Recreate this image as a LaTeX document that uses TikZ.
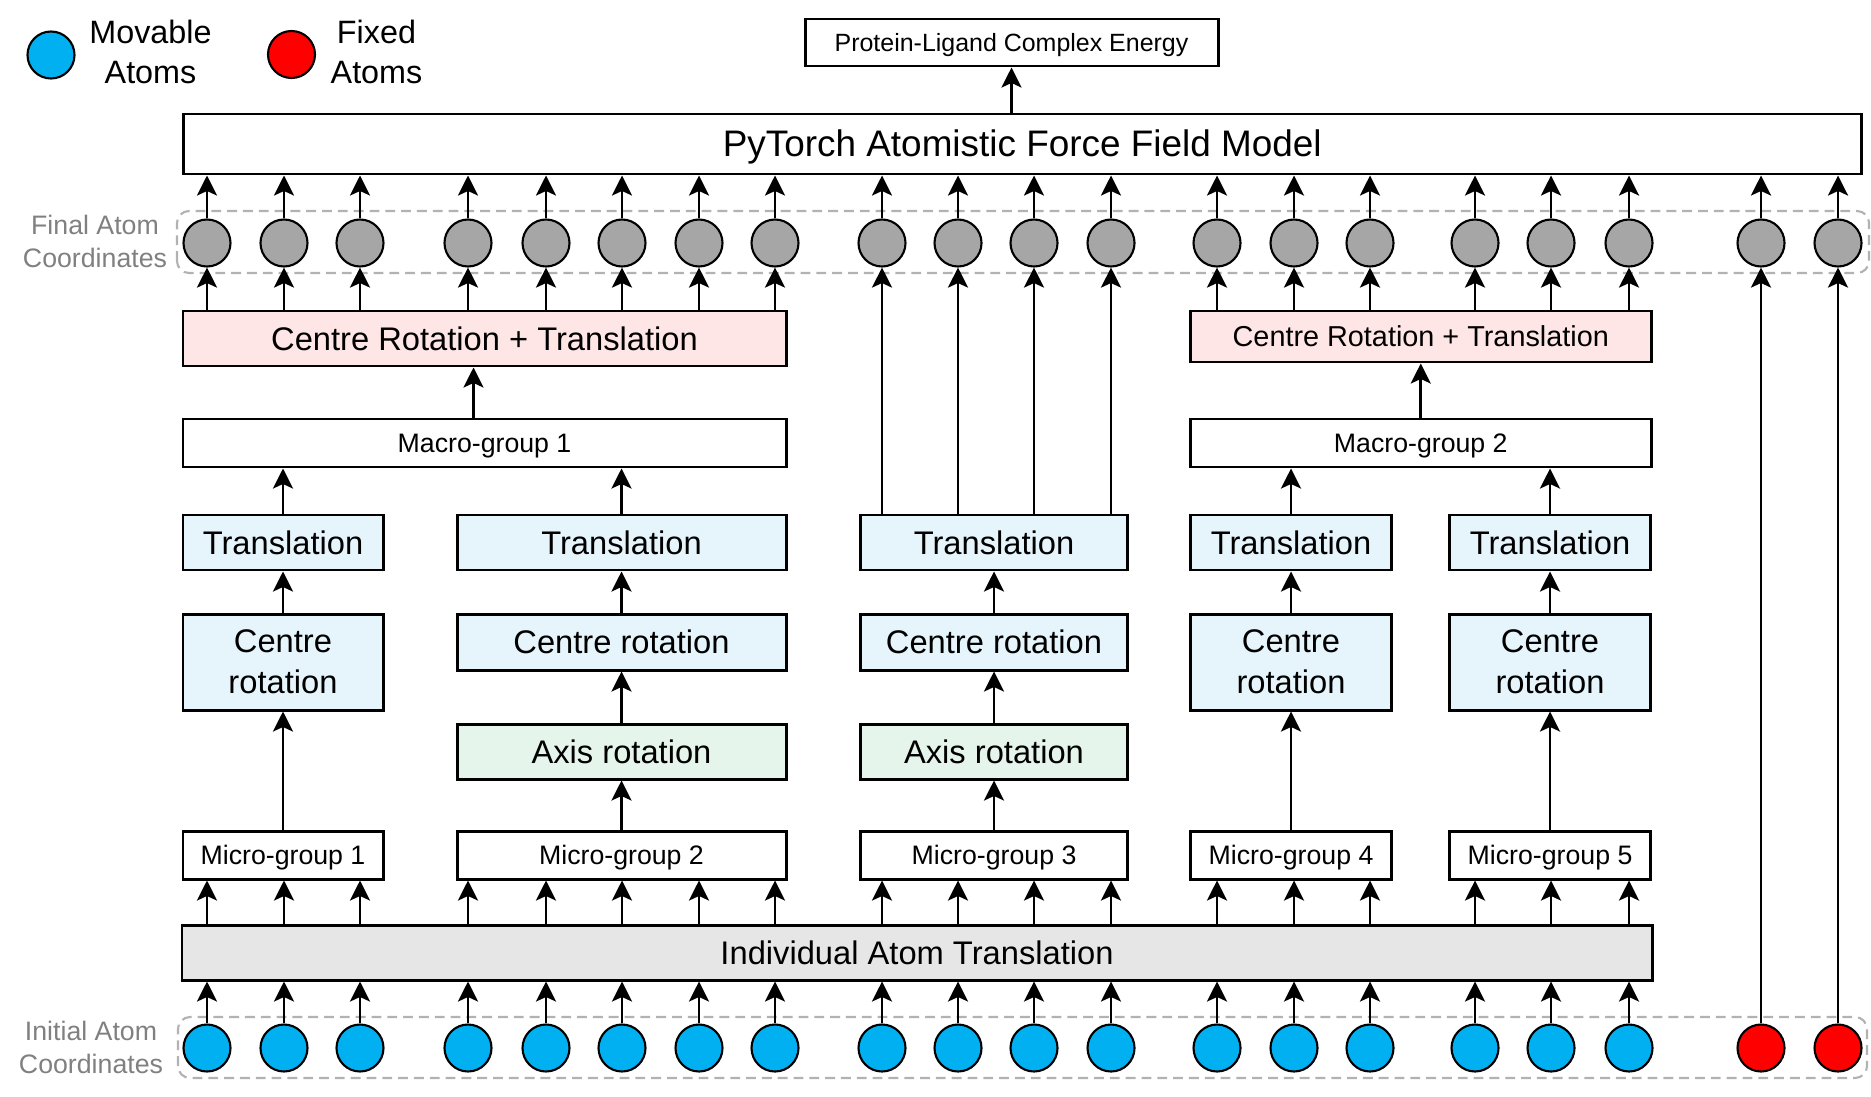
\documentclass[tikz,border=0pt]{standalone}
\usepackage{fontspec}
\setmainfont{Liberation Sans}
\usetikzlibrary{arrows.meta}

\definecolor{atomblue}{HTML}{00B0F0}
\definecolor{atomred}{HTML}{FF0000}
\definecolor{atomgray}{HTML}{A6A6A6}
\definecolor{pinkfill}{HTML}{FFE6E6}
\definecolor{bluefill}{HTML}{E6F5FC}
\definecolor{greenfill}{HTML}{E6F5EC}
\definecolor{greyfill}{HTML}{E6E6E6}

\tikzset{
    atom/.style={circle, draw, line width=0.6pt, minimum size=0.47cm, inner sep=0pt},
    stage/.style={draw, line width=0.85pt, inner sep=0pt, align=center, font=\fontsize{9.3}{11.8}\selectfont},
    group/.style={stage, minimum height=0.48cm, text height=5.3pt, text depth=0pt, font=\fontsize{7.6}{9}\selectfont},
    link/.style={-{Stealth[length=5.7pt, width=5.7pt, inset=1.3pt]}, line width=0.75pt},
    region/.style={draw=black!30, line width=0.6pt, dash pattern=on 2.8pt off 1.7pt, rounded corners=0.12cm},
    note/.style={text=black!50, align=center, font=\fontsize{7.6}{9.4}\selectfont},
    legend/.style={align=center, font=\fontsize{9.2}{11.4}\selectfont}
}

\begin{document}
\begin{tikzpicture}
    \useasboundingbox (0,0) rectangle (18.71,10.96);

    % Coordinate rows
    \draw [region] (1.77,8.23) rectangle (18.69,8.85);
    \draw [region] (1.78,0.18) rectangle (18.67,0.79);
    \node [note] (finallabel) at (0.95,8.545) {Final Atom\\Coordinates};
    \node [note] (initlabel) at (0.91,0.49) {Initial Atom\\Coordinates};

    % Legend
    \node [atom, fill=atomblue] (keymove) at (0.51,10.41) {};
    \node [legend] (keymovetext) at (1.505,10.44) {Movable\\Atoms};
    \node [atom, fill=atomred] (keyfix) at (2.915,10.415) {};
    \node [legend] (keyfixtext) at (3.765,10.44) {Fixed\\Atoms};

    % Model and energy
    \node [stage, minimum width=16.775cm, minimum height=0.6cm, text height=7.35pt, text depth=0pt, font=\fontsize{10.5}{12}\selectfont] (ff) at (10.2225,9.52) {PyTorch Atomistic Force Field Model};
    \node [stage, minimum width=4.13cm, minimum height=0.47cm, text height=5pt, text depth=0pt, font=\fontsize{7.1}{9}\selectfont] (energy) at (10.115,10.535) {Protein-Ligand Complex Energy};

    % Atoms (final and initial)
    \foreach \x [count=\i] in {2.07,2.84,3.60,4.68,5.46,6.22,6.99,7.75,8.82,9.58,10.34,11.11,12.17,12.94,13.70,14.75,15.51,16.29} {
        \node [atom, fill=atomgray] (f\i) at (\x,8.53) {};
        \node [atom, fill=atomblue] (s\i) at (\x,0.48) {};
    }
    \foreach \x [count=\i from 19] in {17.61,18.38} {
        \node [atom, fill=atomgray] (f\i) at (\x,8.53) {};
        \node [atom, fill=atomred] (s\i) at (\x,0.48) {};
    }

    % Individual atom translation
    \node [stage, fill=greyfill, minimum width=14.70cm, minimum height=0.55cm] (ind) at (9.17,1.435) {Individual Atom Translation};

    % Micro-groups
    \node [group, minimum width=2.0cm] (mg1) at (2.83,2.41) {Micro-group 1};
    \node [group, minimum width=3.29cm] (mg2) at (6.215,2.41) {Micro-group 2};
    \node [group, minimum width=2.67cm] (mg3) at (9.94,2.41) {Micro-group 3};
    \node [group, minimum width=2.01cm] (mg4) at (12.91,2.41) {Micro-group 4};
    \node [group, minimum width=2.01cm] (mg5) at (15.50,2.41) {Micro-group 5};

    % Axis rotations
    \node [stage, fill=greenfill, minimum width=3.29cm, minimum height=0.55cm] (ax2) at (6.215,3.445) {Axis rotation};
    \node [stage, fill=greenfill, minimum width=2.67cm, minimum height=0.55cm] (ax3) at (9.94,3.445) {Axis rotation};

    % Centre rotations
    \node [stage, fill=bluefill, minimum width=2.0cm, minimum height=0.96cm] (cr1) at (2.83,4.34) {Centre\\rotation};
    \node [stage, fill=bluefill, minimum width=3.29cm, minimum height=0.56cm] (cr2) at (6.215,4.54) {Centre rotation};
    \node [stage, fill=bluefill, minimum width=2.67cm, minimum height=0.56cm] (cr3) at (9.94,4.54) {Centre rotation};
    \node [stage, fill=bluefill, minimum width=2.01cm, minimum height=0.96cm] (cr4) at (12.91,4.34) {Centre\\rotation};
    \node [stage, fill=bluefill, minimum width=2.01cm, minimum height=0.96cm] (cr5) at (15.50,4.34) {Centre\\rotation};

    % Translations
    \node [stage, fill=bluefill, minimum width=2.0cm, minimum height=0.55cm] (tr1) at (2.83,5.535) {Translation};
    \node [stage, fill=bluefill, minimum width=3.29cm, minimum height=0.55cm] (tr2) at (6.215,5.535) {Translation};
    \node [stage, fill=bluefill, minimum width=2.67cm, minimum height=0.55cm] (tr3) at (9.94,5.535) {Translation};
    \node [stage, fill=bluefill, minimum width=2.01cm, minimum height=0.55cm] (tr4) at (12.91,5.535) {Translation};
    \node [stage, fill=bluefill, minimum width=2.01cm, minimum height=0.55cm] (tr5) at (15.50,5.535) {Translation};

    % Macro-groups and their rigid moves
    \node [group, minimum width=6.03cm] (mac1) at (4.845,6.53) {Macro-group 1};
    \node [group, minimum width=4.605cm] (mac2) at (14.2075,6.53) {Macro-group 2};
    \node [stage, fill=pinkfill, minimum width=6.03cm, minimum height=0.55cm] (crt1) at (4.845,7.575) {Centre Rotation + Translation};
    \node [stage, fill=pinkfill, minimum width=4.605cm, minimum height=0.51cm, font=\fontsize{8.2}{10}\selectfont] (crt2) at (14.2075,7.595) {Centre Rotation + Translation};

    % Initial atoms into the translation stage and the micro-groups
    \foreach \i in {1,...,18}
        \draw [link] (s\i) -- (s\i |- ind.south);
    \foreach \i/\g in {1/1,2/1,3/1,4/2,5/2,6/2,7/2,8/2,9/3,10/3,11/3,12/3,13/4,14/4,15/4,16/5,17/5,18/5}
        \draw [link] (s\i |- ind.north) -- (s\i |- mg\g.south);

    % Micro-group chains
    \draw [link] (mg1) -- (cr1);
    \draw [link] (cr1) -- (tr1);
    \draw [link] (mg2) -- (ax2);
    \draw [link] (ax2) -- (cr2);
    \draw [link] (cr2) -- (tr2);
    \draw [link] (mg3) -- (ax3);
    \draw [link] (ax3) -- (cr3);
    \draw [link] (cr3) -- (tr3);
    \draw [link] (mg4) -- (cr4);
    \draw [link] (cr4) -- (tr4);
    \draw [link] (mg5) -- (cr5);
    \draw [link] (cr5) -- (tr5);

    % Into the macro-groups
    \draw [link] (tr1) -- (tr1 |- mac1.south);
    \draw [link] (tr2) -- (tr2 |- mac1.south);
    \draw [link] (tr4) -- (tr4 |- mac2.south);
    \draw [link] (tr5) -- (tr5 |- mac2.south);
    \draw [link] ([xshift=-0.11cm]mac1.north) -- ([xshift=-0.11cm]crt1.south);
    \draw [link] (mac2) -- (crt2);

    % Out to the final atoms
    \foreach \i in {1,...,8}
        \draw [link] (f\i |- crt1.north) -- (f\i);
    \foreach \i in {9,...,12}
        \draw [link] (f\i |- tr3.north) -- (f\i);
    \foreach \i in {13,...,18}
        \draw [link] (f\i |- crt2.north) -- (f\i);
    \foreach \i in {19,20}
        \draw [link] (s\i) -- (f\i); % fixed atoms pass straight through

    % Final atoms into the model
    \foreach \i in {1,...,20}
        \draw [link] (f\i) -- (f\i |- ff.south);
    \draw [link] (ff.north -| energy) -- (energy);
\end{tikzpicture}
\end{document}
